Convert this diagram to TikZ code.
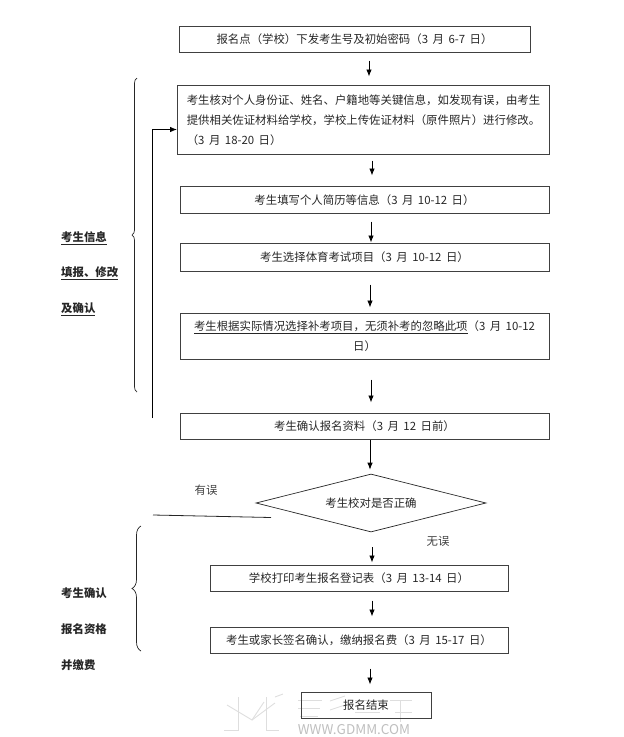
\documentclass[tikz,border=0pt]{standalone}
\usepackage{fontspec}
\setmainfont{Noto Sans CJK SC}
\usetikzlibrary{positioning, arrows.meta, shapes.geometric, decorations.pathreplacing}

\begin{document}
\begin{tikzpicture}[
  x=1pt, y=-1pt,
  font=\fontsize{11.4pt}{20pt}\selectfont,
  stepbox/.style={draw=black!75, line width=1pt, inner sep=0pt, align=center, text=black!85, text depth=-2pt, execute at begin node={\spaceskip=4.5pt\relax}},
  decide/.style={draw=black!85, diamond, aspect=4, inner sep=0pt, line width=0.7pt, minimum width=230pt, minimum height=58pt, text=black!85},
  side/.style={anchor=west, inner sep=0pt, text=black!85, font=\fontsize{11.4pt}{14pt}\selectfont\bfseries},
  note/.style={inner sep=0pt, text=black!75},
  arr/.style={-{Latex[length=7pt,width=5.5pt]}, line width=0.8pt, black},
  curly/.style={line width=0.7pt, black!85, decorate},
  faint/.style={line width=0.9pt, black!13}
]
\useasboundingbox (0,0) rectangle (624,737);
% --- watermark, under everything else ---
\draw[faint] (227,705) -- (252,720) -- (275,703);
\draw[faint] (238,697) -- (238,730) -- (224,730);
\draw[faint] (266,697) -- (266,730) -- (279,730);
\draw[faint] (252,720) -- (264,702);
\draw[faint] (275,697) -- (283,694);
\draw[faint] (298,700) -- (322,700);
\draw[faint] (298,708) -- (320,708);
\draw[faint] (300,716) -- (318,716);
\draw[faint] (330,701) -- (345,696);
\draw[faint] (330,710) -- (345,705);
\draw[faint] (355,700) -- (378,700);
\draw[faint] (355,712) -- (380,712);
\draw[faint] (390,700) -- (412,700);
\draw[faint] (395,712) -- (412,712);
\draw[faint] (400,700) -- (400,722);
\node[note, text=black!25, font=\fontsize{13.5pt}{14pt}\selectfont] (site) at (354,730) {WWW.GDMM.COM};

% --- main column ---
\node[stepbox, minimum width=351pt, minimum height=26pt] (issue) at (354.5,39) {报名点（学校）下发考生号及初始密码（3 月 6-7 日）};
\node[stepbox, minimum width=372pt, minimum height=69pt, align=left] (verify) at (363.5,119.5)
  {考生核对个人身份证、姓名、户籍地等关键信息，如发现有误，由考生\\提供相关佐证材料给学校，学校上传佐证材料（原件照片）进行修改。\\（3 月 18-20 日）};
\node[stepbox, minimum width=369pt, minimum height=27pt] (resume) at (364.5,199.5) {考生填写个人简历等信息（3 月 10-12 日）};
\node[stepbox, minimum width=369pt, minimum height=28pt] (sports) at (364.5,257) {考生选择体育考试项目（3 月 10-12 日）};
\node[stepbox, minimum width=369pt, minimum height=46pt] (makeup) at (364.5,336)
  {\underline{考生根据实际情况选择补考项目，无须补考的忽略此项}（3 月 10-12\\日）};
\node[stepbox, minimum width=369pt, minimum height=26pt] (confirm) at (364.5,426) {考生确认报名资料（3 月 12 日前）};
\node[decide] (check) at (371,503) {考生校对是否正确};
\node[stepbox, minimum width=298pt, minimum height=26pt] (print) at (359,578) {学校打印考生报名登记表（3 月 13-14 日）};
\node[stepbox, minimum width=298pt, minimum height=26pt] (sign) at (359,640) {考生或家长签名确认，缴纳报名费（3 月 15-17 日）};
\node[stepbox, minimum width=130pt, minimum height=26pt] (finish) at (366,705) {报名结束};

% --- down arrows, they float between the boxes ---
\draw[arr, shorten <=8pt, shorten >=8pt] ([xshift=14.5pt]issue.south) -- ([xshift=5.5pt]verify.north);
\draw[arr, shorten <=6pt, shorten >=10pt] ([xshift=8.5pt]verify.south) -- ([xshift=7.5pt]resume.north);
\draw[arr, shorten <=8pt] ([xshift=6.5pt]resume.south) -- ([xshift=6.5pt]sports.north);
\draw[arr, shorten <=13pt, shorten >=5pt] ([xshift=5.5pt]sports.south) -- ([xshift=5.5pt]makeup.north);
\draw[arr, shorten <=20pt, shorten >=10pt] ([xshift=6.5pt]makeup.south) -- ([xshift=6.5pt]confirm.north);
\draw[arr, shorten >=4pt] ([xshift=5.5pt]confirm.south) -- ([xshift=-1pt]check.north);
\draw[arr, shorten <=15pt, shorten >=2pt] ([xshift=1pt]check.south) -- ([xshift=13pt]print.north);
\draw[arr, shorten <=9pt, shorten >=10pt] ([xshift=13pt]print.south) -- ([xshift=13pt]sign.north);
\draw[arr, shorten <=15pt, shorten >=7pt] ([xshift=11pt]sign.south) -- ([xshift=4pt]finish.north);

% --- way back when the check fails ---
\coordinate (backfoot) at (152,418);
\coordinate (backtop) at (152,129.5);
\coordinate (failleft) at (153,515);
\coordinate (failright) at (271,517.5);
\draw[arr] (backfoot) -- (backtop) -- (verify.west|-backtop);
\draw[line width=0.8pt, black!85] (failleft) -- (failright);
\node[note] (wrong) at (206,490) {有误};
\node[note] (right) at (438,541) {无误};

% --- braces and their labels ---
\coordinate (upperbot) at (137,392);
\coordinate (uppertop) at (137,78);
\coordinate (lowerbot) at (141,651);
\coordinate (lowertop) at (141,526);
\draw[curly, decoration={brace, amplitude=5pt}] (upperbot) -- (uppertop);
\draw[curly, decoration={brace, amplitude=9pt}] (lowerbot) -- (lowertop);
\node[side] (info1) at (61,238) {\underline{考生信息}};
\node[side] (info2) at (61,273) {\underline{填报、修改}};
\node[side] (info3) at (61,309) {\underline{及确认}};
\node[side] (pay1) at (61,593) {考生确认};
\node[side] (pay2) at (61,629) {报名资格};
\node[side] (pay3) at (61,665) {并缴费};
\end{tikzpicture}
\end{document}
